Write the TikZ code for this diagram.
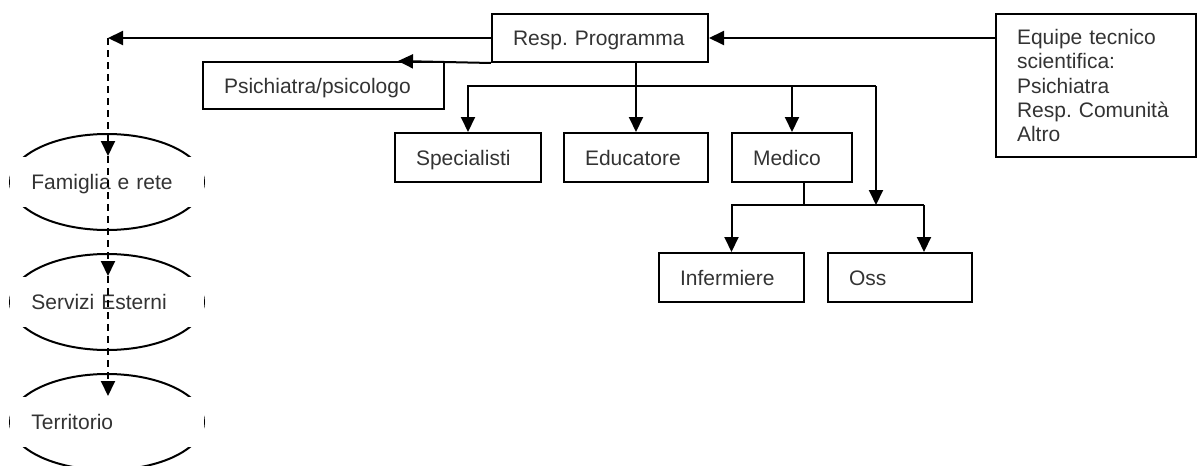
\documentclass[tikz,border=0pt]{standalone}
\usepackage{fontspec}
\setmainfont{Liberation Sans}
\usetikzlibrary{positioning,shapes.geometric,arrows.meta}

\begin{document}
\begin{tikzpicture}[
    x=0.5pt, y=-0.5pt,
    line width=1pt,
    font=\fontsize{10.5}{12.15}\selectfont\frenchspacing,
    orgbox/.style={draw, rectangle, align=left, inner xsep=10.5pt, inner ysep=0pt,
        text height=7.6pt, text depth=0pt, text=black!80},
    ring/.style={draw, ellipse, minimum width=97pt, minimum height=48pt},
    txtbox/.style={fill=white, rectangle, align=left, inner xsep=10.5pt, inner ysep=0pt,
        minimum height=25pt, text width=75.6pt, text height=7.6pt, text depth=0pt, text=black!80},
    arr/.style={-{Triangle[length=7.5pt,width=7pt]}}
]
    \useasboundingbox (0,0) rectangle (1200,466);

    % Boxes of the staff
    \node[orgbox, text width=87pt, minimum height=24pt] (resp) at (600,38) {Resp. Programma};
    \node[orgbox, text height=, text depth=, text width=79pt, minimum height=71.5pt] (equipe) at (1096,85.5)
        {Equipe tecnico\\scientifica:\\Psichiatra\\Resp. Comunità\\Altro};
    \node[orgbox, text width=99.5pt, minimum height=23.5pt] (psi) at (323.5,85.5) {Psichiatra/psicologo};
    \node[orgbox, text width=52pt, minimum height=24.5pt] (spec) at (468,157.5) {Specialisti};
    \node[orgbox, text width=51pt, minimum height=24.5pt] (edu) at (636,157.5) {Educatore};
    \node[orgbox, text width=39pt, minimum height=24.5pt] (med) at (792,157.5) {Medico};
    \node[orgbox, text width=51.5pt, minimum height=24.5pt] (inf) at (731.5,277.5) {Infermiere};
    \node[orgbox, text width=51pt, minimum height=24.5pt] (oss) at (900,277.5) {Oss};

    % Outside network: ellipses with a text box on top
    \node[ring] (famring) at (107,182) {};
    \node[txtbox] (fam) at (107,182) {Famiglia e rete};
    \node[ring] (servring) at (107,302) {};
    \node[txtbox] (serv) at (107,302) {Servizi Esterni};
    \node[ring] (terrring) at (107,422) {};
    \node[txtbox] (terr) at (107,422) {Territorio};

    \coordinate (famtop) at (108,38);
    \coordinate (busR) at (876,86);
    \coordinate (medbus) at (804,205);
    \coordinate (ossin) at ([xshift=12pt]oss.north);

    % Connectors
    \draw[arr] (resp.east -| equipe.west) -- (resp.east);
    \draw[arr] (resp.west) -- (famtop);
    \draw[arr] (resp.south west) -- ([xshift=-23.5pt]psi.north east);
    \draw[arr] (resp.south -| edu.north) -- (edu.north);
    \draw[arr] (busR) -| (spec.north);
    \draw[arr] (med.north |- busR) -- (med.north);
    \draw[arr] (busR) -- (busR |- medbus);
    \draw (medbus |- med.south) -- (medbus);
    \draw[arr] (ossin |- medbus) -| (inf.north);
    \draw[arr] (medbus -| ossin) -- (ossin);

    \draw[arr, dash pattern=on 3.5pt off 2.5pt] (famtop) -- (fam.north -| famtop);
    \draw[arr, dash pattern=on 3.5pt off 2.5pt] (fam.north -| famtop) -- (serv.north -| famtop);
    \draw[arr, dash pattern=on 3.5pt off 2.5pt] (serv.north -| famtop) -- (terr.north -| famtop);
\end{tikzpicture}
\end{document}
